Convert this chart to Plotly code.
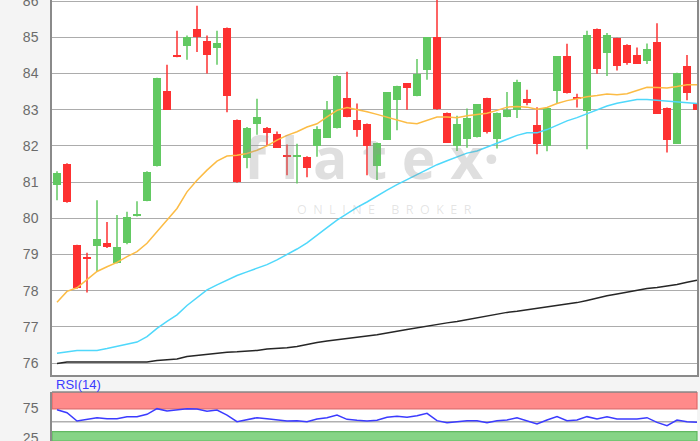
import plotly.graph_objects as go

# ---------------- data ----------------
idx = list(range(65))

opens = [80.92, 81.50, 79.25, 78.94, 79.23, 79.33, 78.77, 79.31, 80.06, 80.48,
         81.45, 83.51, 84.51, 84.77, 85.23, 84.91, 84.70, 85.26, 82.71, 81.67,
         82.60, 82.50, 82.32, 81.75, 81.70, 81.69, 82.00, 82.23, 82.49, 83.33,
         82.72, 82.61, 81.44, 82.17, 83.28, 83.73, 83.38, 84.09, 85.00, 82.91,
         82.00, 82.20, 82.24, 83.32, 82.20, 82.80, 83.00, 83.29, 82.57, 82.00,
         83.52, 84.47, 83.33, 82.95, 85.23, 84.56, 84.98, 84.80, 84.51, 84.34,
         84.86, 83.05, 82.06, 84.22, 83.15]
highs = [81.30, 81.52, 79.27, 79.05, 80.50, 79.90, 80.09, 80.18, 80.47, 81.30,
         83.88, 84.24, 85.18, 85.05, 85.87, 85.05, 85.18, 85.27, 82.73, 82.52,
         83.30, 82.52, 82.40, 82.04, 82.06, 81.71, 82.54, 83.24, 83.95, 84.05,
         83.17, 82.62, 82.09, 83.49, 83.66, 83.74, 84.40, 85.01, 86.30, 82.92,
         82.83, 83.03, 83.16, 83.33, 82.92, 83.49, 83.83, 83.55, 83.07, 83.07,
         84.48, 84.82, 83.44, 85.18, 85.24, 85.12, 84.99, 84.81, 84.72, 84.83,
         85.39, 83.06, 84.02, 84.51, 83.16]
lows = [80.50, 80.43, 78.05, 77.95, 78.53, 79.18, 78.75, 79.28, 80.05, 80.47,
        81.43, 83.00, 84.45, 84.38, 84.59, 84.00, 84.24, 82.93, 80.98, 81.38,
        82.31, 82.00, 81.94, 81.19, 80.96, 81.13, 81.70, 82.22, 82.48, 82.79,
        82.25, 81.19, 81.06, 82.16, 82.43, 83.00, 83.37, 83.83, 83.00, 82.08,
        81.86, 81.95, 82.23, 82.34, 81.93, 82.79, 82.77, 83.12, 81.77, 81.85,
        83.17, 83.45, 83.06, 81.91, 83.99, 83.93, 84.08, 84.24, 84.26, 84.26,
        82.88, 81.82, 82.05, 83.26, 83.00]
closes = [81.26, 80.45, 78.07, 78.88, 79.43, 79.20, 79.21, 80.04, 80.12, 81.28,
          83.87, 83.00, 84.46, 85.00, 85.00, 84.50, 84.83, 83.37, 80.99, 82.50,
          82.79, 82.35, 81.95, 81.68, 81.74, 81.38, 82.48, 83.00, 83.94, 82.80,
          82.44, 82.00, 82.08, 83.48, 83.65, 83.61, 83.99, 85.00, 83.01, 82.09,
          82.61, 82.78, 83.15, 82.37, 82.91, 83.00, 83.76, 83.19, 82.05, 83.06,
          84.47, 83.46, 83.30, 85.05, 84.13, 85.07, 84.20, 84.29, 84.27, 84.68,
          82.89, 82.17, 84.01, 83.46, 83.00]

ma_short = [77.68, 77.98, 78.08, 78.30, 78.53, 78.66, 78.78, 78.94, 79.08, 79.31,
            79.63, 79.95, 80.27, 80.73, 81.05, 81.33, 81.58, 81.72, 81.74, 81.79,
            81.88, 82.00, 82.16, 82.29, 82.39, 82.52, 82.61, 82.80, 82.98, 83.06,
            83.01, 82.94, 82.87, 82.80, 82.73, 82.64, 82.61, 82.71, 82.80, 82.80,
            82.78, 82.83, 82.86, 82.90, 82.98, 83.07, 83.09, 83.07, 83.01, 83.06,
            83.17, 83.25, 83.30, 83.36, 83.39, 83.43, 83.41, 83.44, 83.53, 83.62,
            83.61, 83.60, 83.64, 83.69, 83.69]
ma_mid = [76.27, 76.32, 76.35, 76.35, 76.35, 76.40, 76.46, 76.51, 76.58, 76.73,
          76.96, 77.15, 77.33, 77.59, 77.81, 78.02, 78.16, 78.30, 78.42, 78.52,
          78.62, 78.72, 78.85, 78.99, 79.15, 79.32, 79.52, 79.74, 79.95, 80.13,
          80.30, 80.45, 80.62, 80.78, 80.93, 81.07, 81.21, 81.35, 81.48, 81.59,
          81.70, 81.80, 81.86, 81.97, 82.08, 82.20, 82.29, 82.36, 82.36, 82.45,
          82.57, 82.69, 82.78, 82.89, 82.98, 83.10, 83.18, 83.23, 83.28, 83.28,
          83.26, 83.24, 83.23, 83.21, 83.17]
ma_long = [75.99, 76.03, 76.03, 76.03, 76.03, 76.03, 76.03, 76.03, 76.03, 76.03,
           76.07, 76.09, 76.11, 76.18, 76.21, 76.25, 76.28, 76.30, 76.31, 76.32,
           76.35, 76.39, 76.40, 76.42, 76.46, 76.52, 76.57, 76.61, 76.65, 76.68,
           76.71, 76.75, 76.78, 76.82, 76.88, 76.93, 76.98, 77.02, 77.07, 77.11,
           77.15, 77.20, 77.27, 77.32, 77.36, 77.40, 77.43, 77.47, 77.51, 77.55,
           77.59, 77.63, 77.67, 77.73, 77.80, 77.86, 77.91, 77.96, 78.02, 78.06,
           78.09, 78.12, 78.17, 78.23, 78.29]

rsi = [72.7, 67.7, 53.8, 57.2, 59.4, 57.7, 57.7, 61.1, 61.1, 65.0,
       74.4, 70.5, 72.2, 74.4, 73.8, 70.0, 72.2, 63.8, 52.7, 56.6,
       59.4, 57.7, 55.5, 53.8, 54.4, 52.7, 57.2, 59.4, 63.8, 56.6,
       55.0, 53.8, 55.0, 60.0, 61.7, 60.0, 62.7, 66.6, 54.4, 51.1,
       52.7, 54.4, 54.4, 51.1, 54.4, 55.5, 59.4, 54.4, 48.8, 55.5,
       61.1, 54.4, 55.5, 61.1, 57.2, 61.1, 57.2, 57.2, 57.2, 59.4,
       51.6, 46.1, 55.5, 52.7, 51.6]

price_ticks = [76, 77, 78, 79, 80, 81, 82, 83, 84, 85, 86]
rsi_ticks = [75, 25]

# ---------------- styling ----------------
UP = "#62c962"
DOWN = "#fd3131"
W, H = 700, 441
L_M, R_M = 52, 3


def py(px):
    return 1 - px / H


def pxp(px):
    return (px - L_M) / (W - L_M - R_M)


fig = go.Figure()

# bodies
base = [min(o, c) for o, c in zip(opens, closes)]
height = [max(abs(c - o), 0.04) for o, c in zip(opens, closes)]
colors = [UP if c >= o else DOWN for o, c in zip(opens, closes)]

# wicks
wx_up, wy_up, wx_dn, wy_dn = [], [], [], []
for i, o, h, l, c in zip(idx, opens, highs, lows, closes):
    if c >= o:
        wx_up += [i, i, None]
        wy_up += [l, h, None]
    else:
        wx_dn += [i, i, None]
        wy_dn += [l, h, None]

fig.add_trace(go.Scatter(x=wx_up, y=wy_up, mode="lines",
                         line=dict(color=UP, width=1.5), hoverinfo="skip",
                         xaxis="x", yaxis="y"))
fig.add_trace(go.Scatter(x=wx_dn, y=wy_dn, mode="lines",
                         line=dict(color=DOWN, width=1.5), hoverinfo="skip",
                         xaxis="x", yaxis="y"))
fig.add_trace(go.Bar(x=idx, y=height, base=base, width=0.8,
                     marker=dict(color=colors, line=dict(width=0)),
                     xaxis="x", yaxis="y"))

fig.add_trace(go.Scatter(x=idx, y=ma_long, mode="lines",
                         line=dict(color="#262626", width=1.5), xaxis="x", yaxis="y"))
fig.add_trace(go.Scatter(x=idx, y=ma_mid, mode="lines",
                         line=dict(color="#4fd8fb", width=1.5), xaxis="x", yaxis="y"))
fig.add_trace(go.Scatter(x=idx, y=ma_short, mode="lines",
                         line=dict(color="#fcbc45", width=1.5), xaxis="x", yaxis="y"))

# RSI
fig.add_trace(go.Scatter(x=idx, y=rsi, mode="lines",
                         line=dict(color="#3b3bff", width=1.5), xaxis="x2", yaxis="y2"))

FONT = dict(family="Liberation Sans, Arial, sans-serif", size=14, color="#6b6b6b")

main_dom = [py(375), 1.0]
rsi_dom = [0.0, py(392)]
rsi_range = [20.5, 102.2]

fig.update_layout(
    width=W, height=H, autosize=False,
    margin=dict(l=L_M, r=R_M, t=0, b=0, autoexpand=False),
    paper_bgcolor="#f4f4f4",
    plot_bgcolor="#ffffff",
    showlegend=False,
    bargap=0,
    xaxis=dict(domain=[0, 1], range=[-0.5, 64.0], showgrid=False, zeroline=False,
               showticklabels=False, showline=True, linecolor="#8a8a8a", linewidth=1.5,
               anchor="y", automargin=False),
    yaxis=dict(domain=main_dom, range=[75.67, 86.03], tickvals=price_ticks,
               showgrid=True, gridcolor="#acacac", gridwidth=1.3, zeroline=False,
               showline=True, mirror=True, linecolor="#8a8a8a", linewidth=1.5,
               ticks="", ticklabelstandoff=9, tickfont=FONT, anchor="x",
               ticklabeloverflow="allow", automargin=False),
    xaxis2=dict(domain=[0, 1], range=[-0.5, 64.0], matches="x", showgrid=False,
                zeroline=False, showticklabels=False, showline=False, anchor="y2",
                automargin=False),
    yaxis2=dict(domain=rsi_dom, range=rsi_range, tickvals=rsi_ticks,
                showgrid=False, zeroline=False, showline=True, linecolor="#8a8a8a",
                linewidth=1.5, ticks="", ticklabelstandoff=9, tickfont=FONT,
                anchor="x2", ticklabeloverflow="allow", automargin=False),
)

# RSI bands
fig.add_shape(type="rect", xref="x2 domain", yref="y2", x0=0, x1=1, y0=74.2, y1=rsi_range[1],
              fillcolor="#ff8a8a", line=dict(color="#e06a6a", width=1.2), layer="below")
fig.add_shape(type="rect", xref="x2 domain", yref="y2", x0=0, x1=1, y0=rsi_range[0], y1=36.0,
              fillcolor="#86d486", line=dict(color="#62b862", width=1.2), layer="below")
fig.add_shape(type="line", xref="x2 domain", yref="y2", x0=0, x1=1, y0=52.7, y1=52.7,
              line=dict(color="#b0b0b0", width=1.5), layer="below")
fig.add_shape(type="line", xref="x2 domain", yref="paper", x0=0, x1=1, y0=py(392), y1=py(392),
              line=dict(color="#8a8a8a", width=1.5))

# labels / watermark
fig.add_annotation(text="RSI(14)", xref="paper", yref="paper", x=pxp(54), y=py(384),
                   xanchor="left", yanchor="middle", showarrow=False,
                   font=dict(family="Liberation Sans, Arial, sans-serif", size=13, color="#3b3bff"))
fig.add_annotation(text="f l a t e x·", xref="paper", yref="paper", x=pxp(372), y=py(157),
                   xanchor="center", yanchor="middle", showarrow=False,
                   font=dict(family="Open Sans, sans-serif", size=57, weight="bold",
                             color="rgba(150,150,150,0.30)"))
fig.add_annotation(text="O  N  L  I  N  E     B  R  O  K  E  R", xref="paper", yref="paper",
                   x=pxp(384), y=py(209.5), xanchor="center", yanchor="middle", showarrow=False,
                   font=dict(family="Open Sans, sans-serif", size=12.5, color="rgba(150,150,150,0.26)"))

fig.write_html(
    "out.html",
    config={"responsive": False, "displayModeBar": False},
    post_script="document.body.style.margin='0';document.body.style.overflow='hidden';"
                "Plotly.relayout('{plot_id}', {width: 700, height: 441});",
)
